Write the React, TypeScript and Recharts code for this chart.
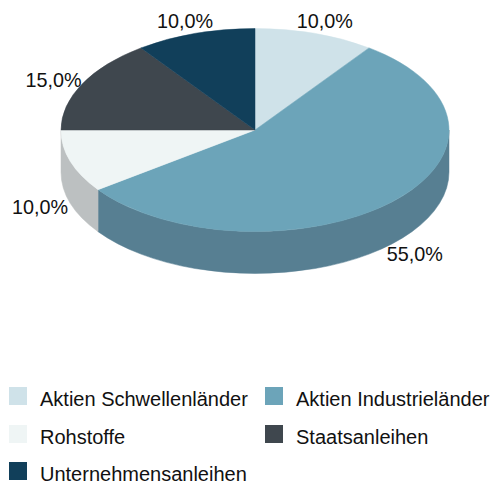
import React from "react";
import { PieChart, Pie, Cell, Legend } from "recharts";

const categories = ["Aktien Schwellenländer", "Aktien Industrieländer", "Rohstoffe", "Staatsanleihen", "Unternehmensanleihen"];
const shares = [10, 55, 10, 15, 10];
const topColors = ["#cfe2e9", "#6ca4b9", "#eff5f5", "#3f474e", "#113f5a"];
const rimColors = ["#a6b5ba", "#577f92", "#bcc0c1", "#32393e", "#0e3248"];

const data = categories.map((name, i) => ({ name, value: shares[i], rim: rimColors[i] }));

const W = 491;
const H = 481;
const CX = 255;
const CY = 130;
const RX = 194;
const TILT = 101.5 / 194;
const DEPTH = 42;
const FONT = "Arial, 'Liberation Sans', sans-serif";

const rad = (d: number) => (d * Math.PI) / 180;
const pt = (cx: number, cy: number, r: number, a: number) => [
  cx + r * Math.cos(rad(a)),
  cy - r * TILT * Math.sin(rad(a)),
];

// Recharts gives the sector in its own angles; the top face is that sector squashed into an ellipse.
function TopFace(props: any) {
  const { cx, cy, outerRadius: r, startAngle, endAngle, fill } = props;
  const [x1, y1] = pt(cx, cy, r, startAngle);
  const [x2, y2] = pt(cx, cy, r, endAngle);
  const large = Math.abs(startAngle - endAngle) > 180 ? 1 : 0;
  const d = `M${cx},${cy} L${x1},${y1} A${r},${r * TILT} 0 ${large} 1 ${x2},${y2} Z`;
  return <path d={d} fill={fill} stroke={fill} strokeWidth={0.5} />;
}

// The visible wall of a sector: the part of its arc on the front half of the ellipse (180..360 deg).
function Wall(props: any) {
  const { cx, cy, outerRadius: r, startAngle, endAngle, payload } = props;
  const norm = (a: number) => ((a % 360) + 360) % 360;
  let hi = norm(startAngle);
  let lo = hi - Math.abs(startAngle - endAngle);
  const ranges: [number, number][] = [];
  for (const [a, b] of [[180, 360], [-180, 0]] as [number, number][]) {
    const s = Math.max(lo, a);
    const e = Math.min(hi, b);
    if (e > s) ranges.push([e, s]);
  }
  const fill = payload?.rim ?? props.rim;
  return (
    <g>
      {ranges.map(([from, to], i) => {
        const [x1, y1] = pt(cx, cy, r, from);
        const [x2, y2] = pt(cx, cy, r, to);
        const ry = r * TILT;
        const d = `M${x1},${y1} A${r},${ry} 0 0 1 ${x2},${y2} L${x2},${y2 + DEPTH} A${r},${ry} 0 0 0 ${x1},${y1 + DEPTH} Z`;
        return <path key={i} d={d} fill={fill} stroke={fill} strokeWidth={0.5} />;
      })}
    </g>
  );
}

function SliceLabel(props: any) {
  const { cx, cy, outerRadius: r, midAngle, value } = props;
  const c = Math.cos(rad(midAngle));
  const s = Math.sin(rad(midAngle));
  const x = cx + (r + 32) * c;
  const y = cy - (r * TILT + 16) * s + (s < 0 ? DEPTH - 4 : 0) + 3;
  return (
    <text x={x} y={y} textAnchor="middle" dominantBaseline="central" fontFamily={FONT} fontSize={19.8} fill="#111">
      {Number(value).toFixed(1).replace(".", ",") + "%"}
    </text>
  );
}

const legendCols = [9, 265];
const legendTextOffset = 31;
const legendRows = [387, 425, 462];

function LegendBlock({ payload }: any) {
  const items = (payload ?? []).filter((p: any) => p.type !== "none");
  return (
    <div style={{ position: "relative", width: W, height: H - 380, fontFamily: FONT, fontSize: 20, color: "#111" }}>
      {items.map((p: any, i: number) => {
        const left = legendCols[i % 2];
        const top = legendRows[Math.floor(i / 2)] - 380;
        return (
          <React.Fragment key={p.value}>
            <div style={{ position: "absolute", left, top, width: 18, height: 18, background: p.color }} />
            <div style={{ position: "absolute", left: left + legendTextOffset, top, lineHeight: "24px", whiteSpace: "nowrap" }}>
              {p.value}
            </div>
          </React.Fragment>
        );
      })}
    </div>
  );
}

export default function App() {
  return (
    <div style={{ position: "absolute", left: 0, top: 0, width: W, height: H, overflow: "hidden" }}>
      <PieChart width={W} height={H} margin={{ top: 0, right: 0, bottom: 0, left: 0 }}>
        <Pie
          data={data}
          dataKey="value"
          nameKey="name"
          cx={CX}
          cy={CY}
          outerRadius={RX}
          startAngle={90}
          endAngle={-270}
          isAnimationActive={false}
          legendType="none"
          shape={Wall}
          stroke="none"
        />
        <Pie
          data={data}
          dataKey="value"
          nameKey="name"
          cx={CX}
          cy={CY}
          outerRadius={RX}
          startAngle={90}
          endAngle={-270}
          isAnimationActive={false}
          legendType="square"
          shape={TopFace}
          label={SliceLabel}
          labelLine={false}
          stroke="none"
        >
          {data.map((d, i) => (
            <Cell key={d.name} fill={topColors[i]} />
          ))}
        </Pie>
        <Legend content={LegendBlock} itemSorter={null} wrapperStyle={{ position: "absolute", left: 0, top: 380, width: W }} />
      </PieChart>
    </div>
  );
}
